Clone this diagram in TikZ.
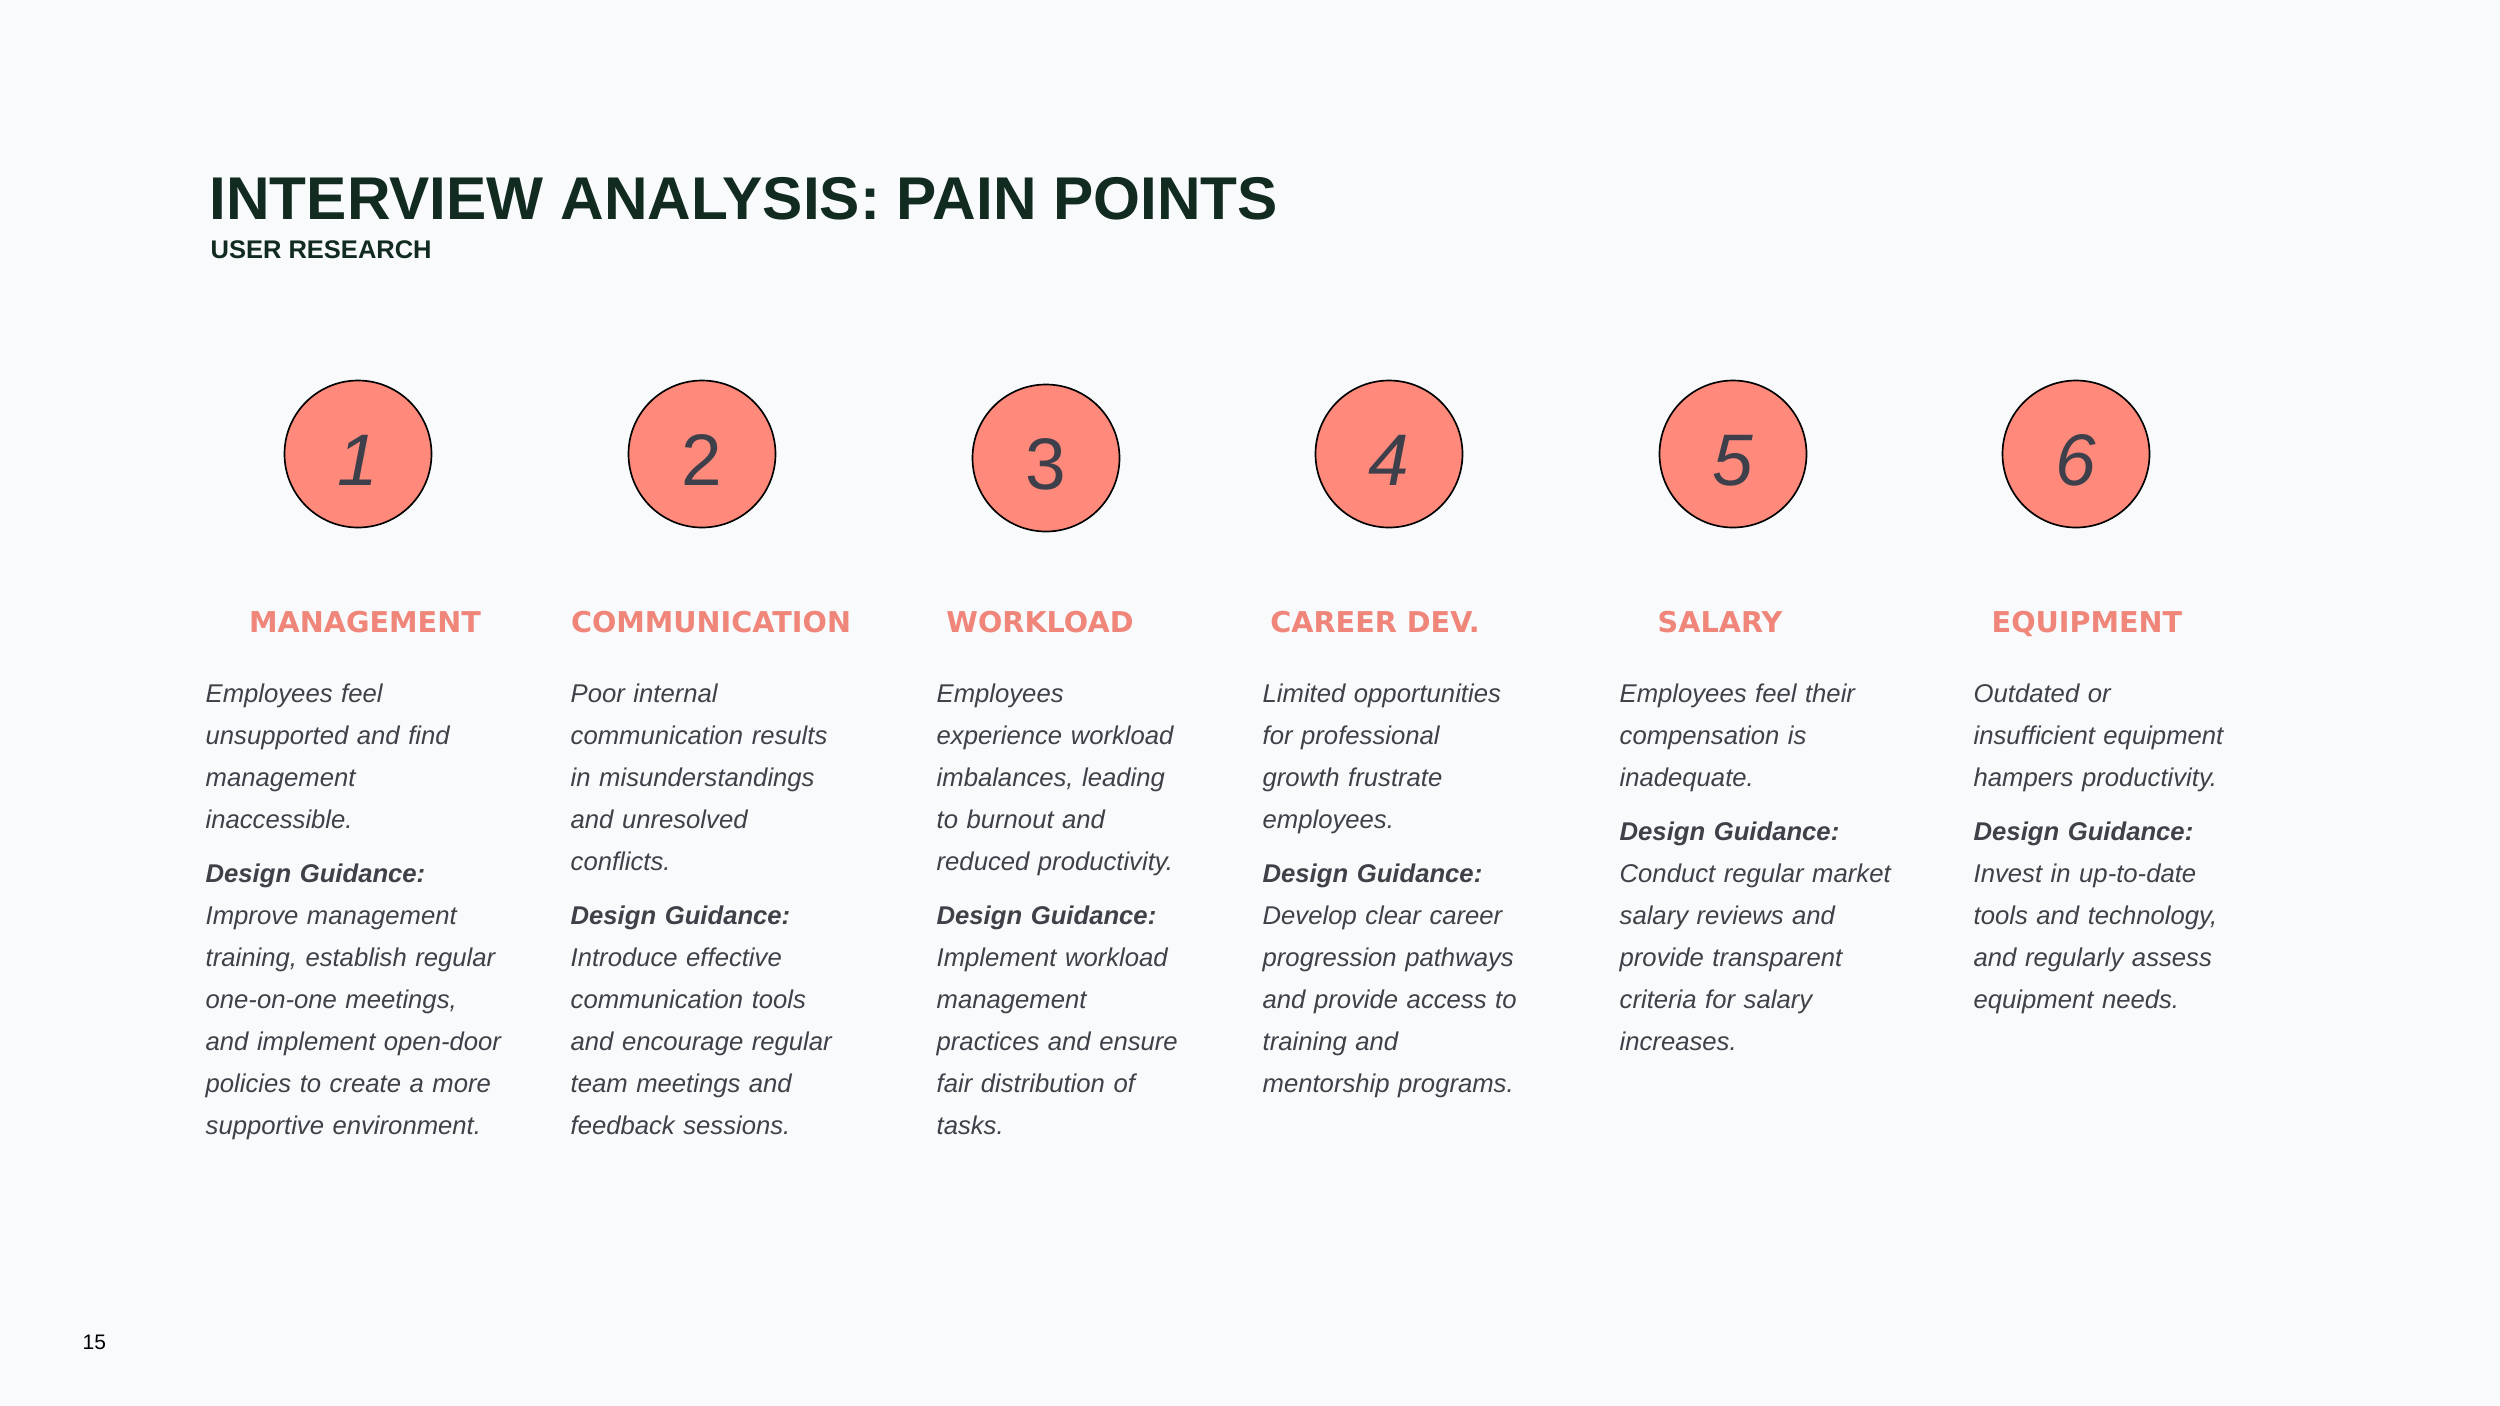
\documentclass[tikz,border=0pt]{standalone}
\usepackage{fontspec}
\setmainfont{Liberation Sans}
\newfontfamily\headfont{DejaVu Sans}

\definecolor{pagebg}{HTML}{F8FAFC}
\definecolor{titlegreen}{HTML}{122B20}
\definecolor{salmonfill}{HTML}{FF8A7B}
\definecolor{salmontext}{HTML}{F0857A}
\definecolor{digitgray}{HTML}{3D3F4A}
\definecolor{bodygray}{HTML}{404048}

\tikzset{
  numcircle/.style={circle, draw=black, line width=0.5pt, fill=salmonfill,
    minimum size=44.1pt, inner sep=0pt, text=digitgray,
    text height=18.9pt, text depth=0pt,
    font=\fontsize{21.9}{26}\selectfont},
  heading/.style={anchor=base, inner sep=0pt, text=salmontext,
    font=\headfont\bfseries\fontsize{8.6}{10}\selectfont},
  bodytext/.style={anchor=base west, inner sep=0pt, text width=102pt,
    align=left, text=bodygray, font=\itshape\fontsize{7.7}{12.6}\selectfont},
}

\begin{document}
\begin{tikzpicture}[x=0.3pt, y=-0.3pt]

    % Page background and frame
    \fill[pagebg] (0,0) rectangle (2500,1406);
    \useasboundingbox (0,0) rectangle (2500,1406);

    % Title block
    \node[anchor=base west, inner sep=0pt, text=titlegreen,
      font=\bfseries\fontsize{18.1}{22}\selectfont] (title) at (209,219)
      {INTERVIEW ANALYSIS: PAIN POINTS};
    \node[anchor=base west, inner sep=0pt, text=titlegreen,
      font=\bfseries\fontsize{7.65}{9}\selectfont] (subtitle) at (210,258)
      {USER RESEARCH};

    % Numbered circles
    \node[numcircle] (num1) at (358,454) {\itshape 1};
    \node[numcircle] (num2) at (702,454) {2};
    \node[numcircle] (num3) at (1046,458) {3};
    \node[numcircle] (num4) at (1389,454) {\itshape 4};
    \node[numcircle] (num5) at (1733,454) {\itshape 5};
    \node[numcircle] (num6) at (2076,454) {\itshape 6};

    % Category headings
    \node[heading] (head1) at (365,632) {MANAGEMENT};
    \node[heading] (head2) at (711,632) {COMMUNICATION};
    \node[heading] (head3) at (1040,632) {WORKLOAD};
    \node[heading] (head4) at (1375,632) {CAREER DEV.};
    \node[heading] (head5) at (1720,632) {SALARY};
    \node[heading] (head6) at (2087,632) {EQUIPMENT};

    % Pain points and design guidance
    \node[bodytext] (text1) at (205,702) {Employees feel\\ unsupported and find\\
      management\\ inaccessible.\\[3.6pt] \textbf{Design Guidance:}\\
      Improve management\\ training, establish regular\\ one-on-one meetings,\\
      and implement open-door\\ policies to create a more\\ supportive environment.};
    \node[bodytext] (text2) at (570,702) {Poor internal\\ communication results\\
      in misunderstandings\\ and unresolved\\ conflicts.\\[3.6pt]
      \textbf{Design Guidance:}\\ Introduce effective\\ communication tools\\
      and encourage regular\\ team meetings and\\ feedback sessions.};
    \node[bodytext] (text3) at (936,702) {Employees\\ experience workload\\
      imbalances, leading\\ to burnout and\\ reduced productivity.\\[3.6pt]
      \textbf{Design Guidance:}\\ Implement workload\\ management\\
      practices and ensure\\ fair distribution of\\ tasks.};
    \node[bodytext] (text4) at (1262,702) {Limited opportunities\\ for professional\\
      growth frustrate\\ employees.\\[3.6pt] \textbf{Design Guidance:}\\
      Develop clear career\\ progression pathways\\ and provide access to\\
      training and\\ mentorship programs.};
    \node[bodytext] (text5) at (1619,702) {Employees feel their\\ compensation is\\
      inadequate.\\[3.6pt] \textbf{Design Guidance:}\\ Conduct regular market\\
      salary reviews and\\ provide transparent\\ criteria for salary\\ increases.};
    \node[bodytext] (text6) at (1973,702) {Outdated or\\ insufficient equipment\\
      hampers productivity.\\[3.6pt] \textbf{Design Guidance:}\\
      Invest in up-to-date\\ tools and technology,\\ and regularly assess\\
      equipment needs.};

    % Page number
    \node[anchor=base west, inner sep=0pt, text=black,
      font=\fontsize{6.3}{8}\selectfont] (pagenum) at (82,1349) {15};

\end{tikzpicture}
\end{document}
